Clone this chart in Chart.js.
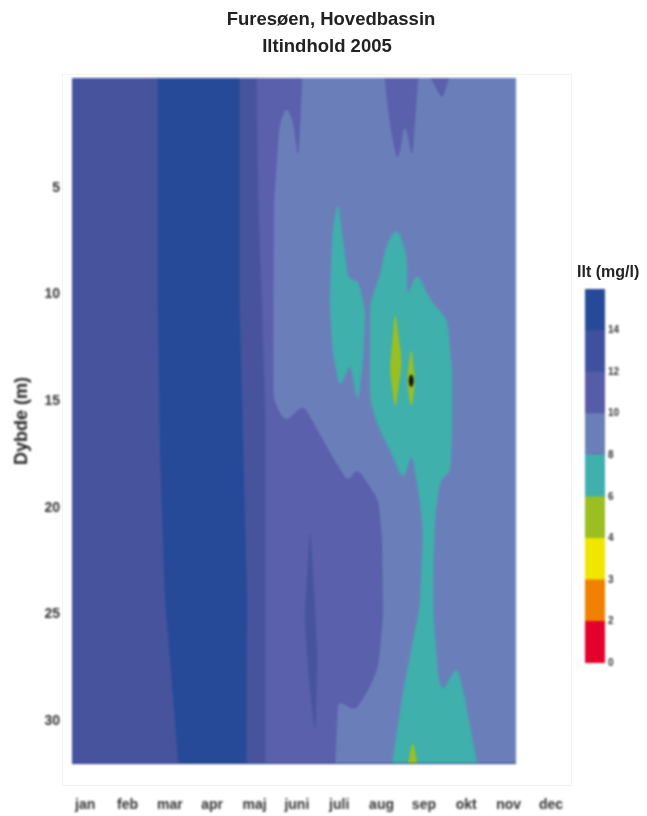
<!DOCTYPE html>
<html lang="da">
<head>
<meta charset="UTF-8" />
<title>Furesøen, Hovedbassin</title>
<script src="https://cdn.jsdelivr.net/npm/chart.js"></script>
<style>
  html, body { margin: 0; padding: 0; background: #fff; }
  #page { position: relative; width: 647px; height: 816px; overflow: hidden; font-family: "Liberation Sans", Arial, sans-serif; color: #222; }
  #page canvas { position: absolute; filter: blur(0.8px); }
  #mainChart { left: 0; top: 0; }
  #scaleChart { left: 560px; top: 260px; }
  #frame { position: absolute; left: 62px; top: 74px; width: 508px; height: 710px; border: 1px solid #f3f3f0; }
  h1 { position: absolute; margin: 0; font-size: 18.5px; font-weight: bold; line-height: 26px; white-space: nowrap; transform: translateX(-50%); filter: blur(0.6px); }
  #line1 { left: 331px; top: 6px; }
  #line2 { left: 327px; top: 33px; }
  #scaleTitle { position: absolute; left: 577px; top: 263px; font-size: 16px; line-height: 18px; font-weight: bold; white-space: nowrap; filter: blur(0.6px); }
</style>
</head>
<body>
<div id="page">
  <div id="frame"></div>
  <canvas id="mainChart" width="647" height="816"></canvas>
  <canvas id="scaleChart" width="87" height="420"></canvas>
  <h1 id="line1">Furesøen, Hovedbassin</h1>
  <h1 id="line2">Iltindhold 2005</h1>
  <div id="scaleTitle">Ilt (mg/l)</div>
</div>
<script>
const monthLabels = ['jan', 'feb', 'mar', 'apr', 'maj', 'juni', 'juli', 'aug', 'sep', 'okt', 'nov', 'dec'];
const depthTicks = [5, 10, 15, 20, 25, 30];
const scaleLabels = ['0', '2', '3', '4', '6', '8', '10', '12', '14', ''];
const scaleColors = ['#e4002b', '#f08000', '#f0e600', '#9bbf20', '#3fb0ac', '#6a7fba', '#555ca8', '#3f509e', '#264a97'];

// contour outlines, month position (jan = 0) and depth in metres
const wholeMonths = [-0.31, 10.17, 10.17, -0.31];
const wholeDepths = [-0.14, -0.14, 32, 32];

const o2_14Months = [1.72, 3.64, 3.64, 3.73, 3.82, 3.80, 2.20, 2.05, 1.89, 1.77, 1.72];
const o2_14Depths = [-0.14, -0.14, 10.25, 17.28, 24.30, 32, 32, 28.04, 24.30, 17.28, 10.25];

const o2_12Months = [-0.31, 4.04, 4.08, 4.18, 4.25, 4.25, -0.31];
const o2_12Depths = [-0.14, -0.14, 5.57, 11.19, 15.87, 32, 32];
const streakMonths = [5.31, 5.41, 5.48, 5.43, 5.29, 5.19];
const streakDepths = [21.02, 24.30, 27.11, 30.52, 28.04, 25.23];

const o2_10Months = [3.90, 5.12, 5.08, 5.03, 4.91, 4.75, 4.58, 4.46, 4.44, 4.44, 4.72, 5.15, 5.48, 5.78, 6.21, 6.42, 6.73, 6.92, 7.01, 7.03, 6.92, 6.73, 6.37, 5.97, 5.90, 3.90];
const o2_10Depths = [-0.14, -0.14, 1.83, 3.60, 1.83, 1.17, 2.06, 5.57, 10.25, 14.93, 16.01, 15.17, 16.34, 17.42, 18.82, 18.12, 19.05, 19.62, 21.49, 25.09, 27.43, 28.37, 29.54, 28.98, 32, 32];
const augTopMonths = [7.08, 7.86, 7.79, 7.72, 7.63, 7.53, 7.44, 7.37, 7.22, 7.13];
const augTopDepths = [-0.14, -0.14, 1.83, 3.60, 2.53, 2.06, 3.23, 3.70, 2.29, 0.89];
const sepTopMonths = [8.17, 8.59, 8.50, 8.43, 8.31];
const sepTopDepths = [-0.14, -0.14, 0.42, 0.84, 0.42];

const juliMonths = [5.97, 6.07, 6.21, 6.44, 6.61, 6.56, 6.44, 6.26, 6.02, 5.85, 5.78, 5.85];
const juliDepths = [5.66, 7.30, 9.32, 9.32, 10.72, 13.06, 15.07, 13.20, 14.37, 12.73, 10.39, 6.98];
const o2_6Months = [7.37, 7.60, 7.60, 7.84, 8.14, 8.55, 8.66, 8.66, 8.62, 8.38, 8.26, 8.22, 8.22, 8.33, 8.43, 8.78, 8.97, 9.25, 7.25, 7.51, 7.74, 7.91, 7.98, 7.91, 7.72, 7.51, 7.27, 6.89, 6.73, 6.73, 6.73, 6.96, 7.13];
const o2_6Depths = [6.88, 8.24, 10.11, 8.99, 10.25, 11.19, 13.53, 16.48, 18.35, 18.68, 20.41, 22.75, 25.09, 27.90, 28.65, 27.43, 28.98, 32, 32, 28.65, 26.31, 24.63, 21.16, 19.62, 17.42, 18.68, 17.60, 16.01, 14.93, 11.99, 10.39, 9.18, 7.58];

const o2_4aMonths = [7.32, 7.48, 7.32, 7.20];
const o2_4aDepths = [10.81, 13.20, 15.40, 13.53];
const o2_4bMonths = [7.70, 7.79, 7.70, 7.60];
const o2_4bDepths = [12.45, 14.14, 15.40, 14.00];
const o2_4cMonths = [7.74, 7.84, 7.63];
const o2_4cDepths = [30.85, 32, 32];
const minMonths = [7.70, 7.77, 7.70, 7.63];
const minDepths = [13.67, 14.04, 14.42, 14.04];

const patches = [
  ['#6a7fba', wholeMonths, wholeDepths],
  ['#5a60ab', o2_10Months, o2_10Depths],
  ['#5a60ab', augTopMonths, augTopDepths],
  ['#5a60ab', sepTopMonths, sepTopDepths],
  ['#47549d', o2_12Months, o2_12Depths],
  ['#47549d', streakMonths, streakDepths],
  ['#264a97', o2_14Months, o2_14Depths],
  ['#3fb0ac', juliMonths, juliDepths],
  ['#3fb0ac', o2_6Months, o2_6Depths],
  ['#9bbf20', o2_4aMonths, o2_4aDepths],
  ['#9bbf20', o2_4bMonths, o2_4bDepths],
  ['#9bbf20', o2_4cMonths, o2_4cDepths],
  ['#111111', minMonths, minDepths]
];

// scatter points are placed by the scales, this closes them into a filled shape
// with the corners rounded off, except where the outline touches top or bottom
const cornerCut = 9;
const contourFill = {
  id: 'contourFill',
  beforeDatasetDraw(chart, args) {
    const dataset = chart.data.datasets[args.index];
    if (!dataset.patchColor) return;
    const { ctx, chartArea } = chart;
    const pts = args.meta.data;
    const n = pts.length;
    const towards = (a, b) => {
      const dist = Math.hypot(b.x - a.x, b.y - a.y);
      const t = Math.min(cornerCut, dist / 2) / dist;
      return { x: a.x + (b.x - a.x) * t, y: a.y + (b.y - a.y) * t };
    };
    ctx.save();
    ctx.beginPath();
    ctx.rect(chartArea.left, chartArea.top, chartArea.right - chartArea.left, chartArea.bottom - chartArea.top);
    ctx.clip();
    ctx.beginPath();
    pts.forEach((p, i) => {
      const onEdge = p.y <= chartArea.top + 1 || p.y >= chartArea.bottom - 1;
      if (onEdge) {
        if (i === 0) ctx.moveTo(p.x, p.y);
        else ctx.lineTo(p.x, p.y);
        return;
      }
      const from = towards(p, pts[(i + n - 1) % n]);
      const to = towards(p, pts[(i + 1) % n]);
      if (i === 0) ctx.moveTo(from.x, from.y);
      else ctx.lineTo(from.x, from.y);
      ctx.quadraticCurveTo(p.x, p.y, to.x, to.y);
    });
    ctx.closePath();
    ctx.fillStyle = dataset.patchColor;
    ctx.strokeStyle = dataset.patchColor;
    ctx.lineWidth = 0.5;
    ctx.fill();
    ctx.stroke();
    ctx.restore();
  }
};

const patchSets = patches.map(([color, months, depths], i) => ({
  patchColor: color,
  data: months.map((month, j) => ({ x: month, y: depths[j] })),
  showLine: false,
  pointRadius: 0,
  order: patches.length - i
}));

const floorLine = {
  data: [{ x: -0.31, y: 32 }, { x: 10.17, y: 32 }],
  showLine: true,
  borderColor: '#2b3a80',
  borderWidth: 2,
  pointRadius: 0,
  order: 0
};

new Chart(document.getElementById('mainChart'), {
  type: 'scatter',
  data: { datasets: [...patchSets, floorLine] },
  plugins: [contourFill],
  options: {
    responsive: false,
    animation: false,
    layout: { padding: { top: 78, right: 77, left: 0, bottom: 0 } },
    plugins: { legend: { display: false }, tooltip: { enabled: false } },
    scales: {
      x: {
        type: 'linear',
        min: -0.31,
        max: 11.45,
        afterFit: (scale) => { scale.height = 52; },
        grid: { display: false },
        border: { display: false },
        ticks: {
          stepSize: 1,
          includeBounds: false,
          autoSkip: false,
          maxRotation: 0,
          padding: 25,
          color: '#333',
          font: { family: '"Liberation Sans"', size: 14, weight: 'bold' },
          callback: (value) => monthLabels[value] ?? ''
        }
      },
      y: {
        type: 'linear',
        reverse: true,
        min: -0.14,
        max: 32,
        afterFit: (scale) => { scale.width = 72; },
        grid: { display: false },
        border: { display: false },
        title: {
          display: true,
          text: 'Dybde (m)',
          color: '#222',
          padding: { top: 11, bottom: 0 },
          font: { family: '"Liberation Sans"', size: 18, weight: 'bold' }
        },
        ticks: {
          stepSize: 5,
          includeBounds: false,
          padding: 4,
          color: '#333',
          font: { family: '"Liberation Sans"', size: 14, weight: 'bold' },
          callback: (value) => (depthTicks.includes(value) ? value : '')
        }
      }
    }
  }
});

new Chart(document.getElementById('scaleChart'), {
  type: 'bar',
  data: {
    labels: ['ilt'],
    datasets: scaleColors.map((color) => ({
      data: [1],
      backgroundColor: color,
      barPercentage: 1,
      categoryPercentage: 1
    }))
  },
  options: {
    responsive: false,
    animation: false,
    layout: { padding: { top: 29, bottom: 17, left: 25, right: 0 } },
    plugins: { legend: { display: false }, tooltip: { enabled: false } },
    scales: {
      x: { stacked: true, display: false },
      y: {
        stacked: true,
        position: 'right',
        min: 0,
        max: 9,
        afterFit: (scale) => { scale.width = 42; },
        grid: { display: false, drawTicks: false },
        border: { display: false },
        ticks: {
          stepSize: 1,
          padding: 3,
          color: '#333',
          font: { family: '"Liberation Sans"', size: 10, weight: 'bold' },
          callback: (value) => scaleLabels[value] ?? ''
        }
      }
    }
  }
});
</script>
</body>
</html>
